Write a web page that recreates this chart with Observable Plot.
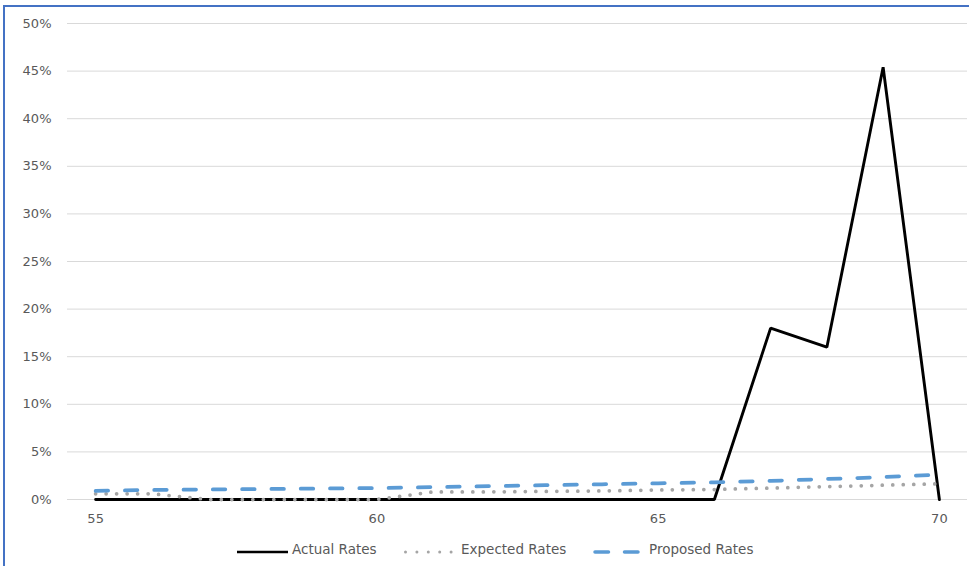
<!DOCTYPE html>
<html>
<head>
<meta charset="utf-8">
<script src="https://cdn.jsdelivr.net/npm/d3@7"></script>
<script src="https://cdn.jsdelivr.net/npm/@observablehq/plot@0.6"></script>
<style>
  html, body { margin: 0; padding: 0; background: #fff; }
  #wrap { position: relative; width: 969px; height: 566px; overflow: hidden; font-family: "DejaVu Sans", sans-serif; }
  #chart { position: absolute; left: 0; top: 0; }
  #frameL { position: absolute; left: 3px; top: 5px; width: 2px; height: 600px; background: #4472C4; }
  #frameT { position: absolute; left: 3px; top: 5px; width: 980px; height: 2px; background: #4472C4; }
  #legend { position: absolute; left: 0; top: 538px; width: 969px; height: 24px; font-size: 13.5px; color: #595959; }
  .sw { position: absolute; top: 6px; }
  .lbl { position: absolute; top: 3px; white-space: nowrap; }
</style>
</head>
<body>
<div id="wrap">
  <div id="chart"></div>
  <div id="legend"></div>
  <div id="frameL"></div>
  <div id="frameT"></div>
</div>
<script>
const ages = [55, 56, 57, 58, 59, 60, 61, 62, 63, 64, 65, 66, 67, 68, 69, 70];
const actualRates   = [0, 0, 0, 0, 0, 0, 0, 0, 0, 0, 0, 0, 18.0, 16.0, 45.4, 0];
const expectedRates = [0.6, 0.6, 0, 0, 0, 0, 0.8, 0.8, 0.85, 0.9, 1.0, 1.05, 1.2, 1.35, 1.5, 1.65];
const proposedRates = [0.9, 1.0, 1.05, 1.1, 1.15, 1.2, 1.3, 1.4, 1.5, 1.6, 1.7, 1.8, 1.95, 2.15, 2.35, 2.6];
const yTicks = [0, 5, 10, 15, 20, 25, 30, 35, 40, 45, 50];
const xTicks = [55, 60, 65, 70];
const seriesNames = ["Actual Rates", "Expected Rates", "Proposed Rates"];

const rows = (vals) => ages.map((a, i) => ({age: a, v: vals[i]}));

const chart = Plot.plot({
  width: 969,
  height: 530,
  marginTop: 23,
  marginBottom: 31,
  marginLeft: 67,
  marginRight: 2,
  style: {fontFamily: "DejaVu Sans, sans-serif", fontSize: "13px", color: "#595959", background: "transparent"},
  x: {domain: [54.5, 70.5], label: null},
  y: {domain: [0, 50], label: null},
  marks: [
    Plot.ruleY(yTicks, {stroke: "#d9d9d9", strokeWidth: 1}),
    Plot.axisX({ticks: xTicks, tickSize: 0, tickPadding: 14, fill: "#595959", tickFormat: d => String(d), label: null}),
    Plot.axisY({ticks: yTicks, tickSize: 0, tickPadding: 16, fill: "#595959", tickFormat: d => d + "%", label: null}),
    Plot.lineY(rows(actualRates), {x: "age", y: "v", stroke: "#000000", strokeWidth: 2.9, strokeLinejoin: "miter"}),
    Plot.lineY(rows(expectedRates), {x: "age", y: "v", stroke: "#a5a5a5", strokeWidth: 3.75, strokeLinecap: "round", strokeDasharray: "0 10.5"}),
    Plot.lineY(rows(proposedRates), {x: "age", y: "v", stroke: "#5B9BD5", strokeWidth: 3.75, strokeLinecap: "round", strokeDasharray: "12.5 16.8"})
  ]
});
document.getElementById("chart").appendChild(chart);

const legend = document.getElementById("legend");
const items = [
  {sx: 237, tx: 292, svg: '<svg width="52" height="10"><line x1="0" y1="5" x2="51" y2="5" stroke="#000" stroke-width="2.5"/></svg>'},
  {sx: 403, tx: 461, svg: '<svg width="52" height="10"><line x1="2.5" y1="5" x2="49.5" y2="5" stroke="#a5a5a5" stroke-width="3" stroke-linecap="round" stroke-dasharray="0 11.4"/></svg>'},
  {sx: 593, tx: 649, svg: '<svg width="50" height="10"><line x1="2" y1="5" x2="47" y2="5" stroke="#5B9BD5" stroke-width="3.5" stroke-linecap="round" stroke-dasharray="13.5 16"/></svg>'}
];
seriesNames.forEach((name, i) => {
  const s = document.createElement("div");
  s.className = "sw";
  s.style.left = items[i].sx + "px";
  s.innerHTML = items[i].svg;
  legend.appendChild(s);
  const t = document.createElement("div");
  t.className = "lbl";
  t.style.left = items[i].tx + "px";
  t.textContent = name;
  legend.appendChild(t);
});
</script>
</body>
</html>
